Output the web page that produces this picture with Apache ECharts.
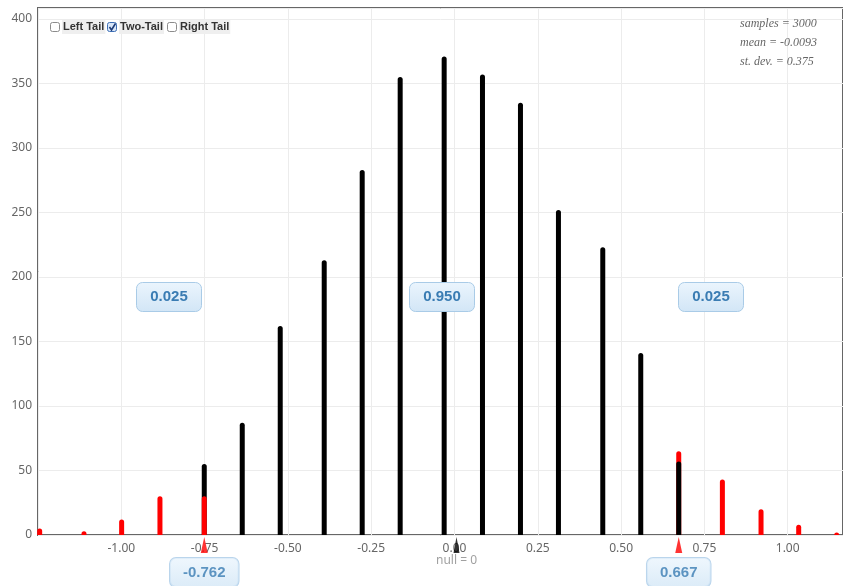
<!DOCTYPE html>
<html><head><meta charset="utf-8">
<script src="https://cdn.jsdelivr.net/npm/echarts@6/dist/echarts.min.js"></script>
<style>html,body{margin:0;padding:0;background:#fff}#c{width:843px;height:586px}</style>
</head><body><div id="c"></div>
<script>
// ---- data ----
const leftTailX = [-1.245, -1.112, -0.999, -0.884, -0.751];
const leftTailCounts = [5, 3, 12, 30, 30];
const centerX = [-0.751, -0.637, -0.523, -0.391, -0.277, -0.163, -0.031, 0.084, 0.198, 0.312, 0.445, 0.559, 0.673];
const centerCounts = [55, 87, 162, 213, 283, 355, 371, 357, 335, 252, 223, 141, 57];
const rightTailX = [0.673, 0.804, 0.920, 1.033, 1.147];
const rightTailCounts = [65, 43, 20, 8, 2];
const cutoffX = [-0.751, 0.673];
const cutoffLabels = ['-0.762', '0.667'];
const nullValue = 0.006;
const nullLabel = 'null = 0';
const proportionLabels = ['0.025', '0.950', '0.025'];
const legendItems = ['Left Tail', 'Two-Tail', 'Right Tail'];
const legendChecked = [false, true, false];
const statsLines = ['samples = 3000', 'mean = -0.0093', 'st. dev. = 0.375'];

const zip = (xs, ys) => xs.map((x, i) => [x, ys[i]]);

const chart = echarts.init(document.getElementById('c'), null, {renderer: 'canvas'});

const boxGrad = () => new echarts.graphic.LinearGradient(0, 0, 0, 1, [
  {offset: 0, color: '#ebf5fd'}, {offset: 1, color: '#d2e6f6'}
]);

const graphics = [];
// proportion boxes
const propCenters = [[169, 297], [442, 297], [711, 297]];
proportionLabels.forEach((t, i) => {
  graphics.push({
    type: 'group', x: propCenters[i][0], y: propCenters[i][1], zlevel: 1, z: 10,
    children: [
      {type: 'rect', zlevel: 1, shape: {x: -32.5, y: -14.5, width: 65, height: 29, r: 6},
       style: {fill: boxGrad(), stroke: '#a9cbe7', lineWidth: 1}},
      {type: 'text', zlevel: 1, z: 11, style: {text: t, x: 0, y: 0, align: 'center', verticalAlign: 'middle',
       font: 'bold 15px "Liberation Sans", Arial, sans-serif', fill: '#3a7cb3'}}
    ]
  });
});
// legend checkboxes
const boxX = [50, 107, 167];
legendItems.forEach((t, i) => {
  const bx = boxX[i], by = 22;
  graphics.push({type: 'rect', shape: {x: bx + 0.5, y: by + 0.5, width: 9, height: 9, r: 2}, z: 10,
    style: {fill: legendChecked[i] ? '#d8e6f8' : '#ffffff', stroke: legendChecked[i] ? '#3e6fb6' : '#8c8c8c', lineWidth: 1}});
  if (legendChecked[i]) {
    graphics.push({type: 'polyline', z: 11, shape: {points: [[bx + 2.5, by + 5], [bx + 4.5, by + 8], [bx + 8.5, by + 1.5]]},
      style: {stroke: '#1d3c78', lineWidth: 1.6, fill: null}});
  }
  graphics.push({type: 'text', x: bx + 12, y: by + 5, z: 10,
    style: {text: t, verticalAlign: 'middle', font: 'bold 11px "Liberation Sans", Arial, sans-serif', fill: '#333',
      backgroundColor: '#efefef', padding: [2, 1, 1, 1]}});
});
// stats text
statsLines.forEach((t, i) => {
  graphics.push({type: 'text', x: 740, y: 24 + i * 19, z: 10,
    style: {text: t, verticalAlign: 'middle', font: 'italic 12px "Liberation Serif", "DejaVu Serif", serif', fill: '#666'}});
});

const barCommon = {type: 'bar', barWidth: 5, barGap: '-100%', silent: true, animation: false};

chart.setOption({
  animation: false,
  grid: {left: 38, right: -2, top: 8, bottom: 51, show: true, borderColor: '#666', borderWidth: 2, backgroundColor: 'transparent'},
  xAxis: {
    type: 'value', min: -1.25, max: 1.166, interval: 0.25,
    axisLine: {show: false}, axisTick: {show: false},
    axisLabel: {formatter: v => v.toFixed(2), showMinLabel: false, showMaxLabel: false,
      color: '#666', fontSize: 12, fontFamily: 'Noto Sans', margin: 8},
    splitLine: {show: true, lineStyle: {color: '#ececec', width: 1}}
  },
  yAxis: {
    type: 'value', min: 0, max: 408.5, interval: 50,
    axisLine: {show: false}, axisTick: {show: false},
    axisLabel: {showMaxLabel: false, color: '#666', fontSize: 12, fontFamily: 'Noto Sans', margin: 6},
    splitLine: {show: true, lineStyle: {color: '#ececec', width: 1}}
  },
  series: [
    Object.assign({}, barCommon, {name: 'right', data: zip(rightTailX, rightTailCounts),
      itemStyle: {color: '#ff0000', borderRadius: [2.5, 2.5, 0, 0]}}),
    Object.assign({}, barCommon, {name: 'center', data: zip(centerX, centerCounts),
      itemStyle: {color: '#000000', borderRadius: [2.5, 2.5, 0, 0]}}),
    Object.assign({}, barCommon, {name: 'left', data: zip(leftTailX, leftTailCounts),
      itemStyle: {color: '#ff0000', borderRadius: [2.5, 2.5, 0, 0]}}),
    {
      type: 'scatter', clip: false, silent: true, z: 5,
      data: cutoffX.map(x => [x, 0]),
      symbol: 'triangle', symbolSize: [7, 16], symbolOffset: [0, 10],
      itemStyle: {color: '#ff0000'},
      label: {show: true, position: 'bottom', distance: 5,
        formatter: p => cutoffLabels[p.dataIndex],
        fontFamily: '"Liberation Sans", Arial, sans-serif', fontWeight: 'bold', fontSize: 15, color: '#3a7cb3',
        lineHeight: 15, padding: [7, 13], borderRadius: 6,
        backgroundColor: boxGrad(), borderColor: '#a9cbe7', borderWidth: 1}
    },
    {
      type: 'scatter', clip: false, silent: true, z: 5,
      data: [[nullValue, 0]],
      symbol: 'triangle', symbolSize: [6, 16], symbolOffset: [0, 10],
      itemStyle: {color: '#000000'},
      label: {show: true, position: 'bottom', distance: 2, formatter: nullLabel,
        fontFamily: 'Noto Sans', fontSize: 12, color: '#888'}
    }
  ],
  graphic: graphics
});
</script></body></html>
